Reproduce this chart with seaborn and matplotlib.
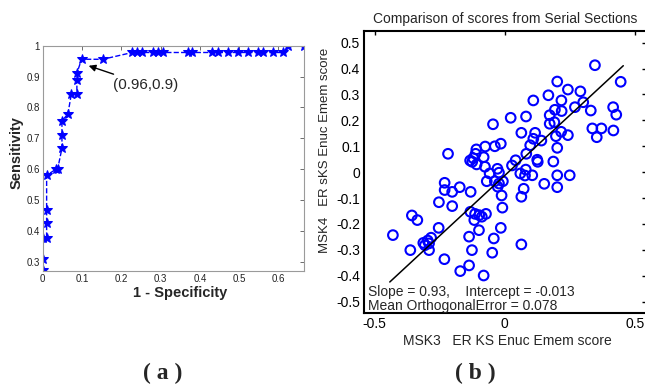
import numpy as np
import pandas as pd
import matplotlib
matplotlib.use('Agg')
import matplotlib.pyplot as plt
import seaborn as sns

# ROC curve (panel a)
fpr = [0.0, 0.0, 0.0, 0.01, 0.01, 0.01, 0.01, 0.034, 0.038, 0.049, 0.049, 0.049,
       0.064, 0.073, 0.087, 0.087, 0.087, 0.099, 0.153, 0.228, 0.24, 0.253, 0.28,
       0.293, 0.305, 0.369, 0.381, 0.432, 0.445, 0.472, 0.497, 0.522, 0.548, 0.561,
       0.586, 0.612, 0.625, 0.665]
tpr = [0.272, 0.31, 0.378, 0.378, 0.424, 0.468, 0.58, 0.60, 0.60, 0.668, 0.71, 0.757,
       0.778, 0.844, 0.844, 0.889, 0.911, 0.956, 0.956, 0.978, 0.978, 0.978, 0.978,
       0.978, 0.978, 0.978, 0.978, 0.978, 0.978, 0.978, 0.978, 0.978, 0.978, 0.978,
       0.978, 0.978, 1.0, 1.0]

# serial section scores (panel b)
msk3 = [0.347, 0.446, 0.202, 0.243, 0.291, 0.110, 0.218, 0.168, 0.270, 0.302, 0.193,
        0.219, 0.331, 0.417, 0.429, 0.023, 0.082, 0.173, -0.045, 0.173, 0.191, 0.337,
        0.372, 0.354, 0.418, 0.064, 0.117, 0.217, 0.243, 0.197, 0.110, 0.141, 0.098,
        0.202, -0.015, -0.038, -0.075, -0.218, -0.109, -0.112, -0.081, -0.121, -0.133,
        -0.125, -0.108, 0.083, 0.042, 0.125, 0.127, 0.187, 0.028, -0.076, -0.028,
        0.081, -0.058, -0.022, 0.060, 0.078, 0.106, 0.202, 0.250, -0.069, -0.038,
        -0.007, -0.022, -0.231, 0.152, 0.202, -0.231, -0.202, -0.173, -0.131, -0.027,
        0.073, -0.012, 0.064, -0.253, -0.202, -0.357, -0.336, -0.132, -0.114, -0.098,
        -0.072, -0.088, -0.117, -0.009, -0.254, -0.099, -0.015, -0.137, -0.042, -0.430,
        -0.283, -0.296, -0.313, -0.307, -0.291, 0.064, -0.363, -0.291, -0.126, -0.048,
        -0.232, -0.137, -0.171, -0.081]
msk4 = [0.413, 0.349, 0.350, 0.319, 0.312, 0.277, 0.277, 0.297, 0.251, 0.270, 0.241,
        0.236, 0.238, 0.251, 0.222, 0.210, 0.215, 0.220, 0.185, 0.187, 0.193, 0.169,
        0.169, 0.135, 0.161, 0.152, 0.152, 0.156, 0.143, 0.139, 0.129, 0.122, 0.104,
        0.094, 0.110, 0.100, 0.099, 0.071, 0.088, 0.071, 0.058, 0.054, 0.045, 0.040,
        0.030, 0.071, 0.046, 0.048, 0.040, 0.041, 0.026, 0.021, 0.013, 0.010, -0.005,
        -0.002, -0.005, -0.013, -0.012, -0.012, -0.012, -0.035, -0.035, -0.035, -0.044,
        -0.041, -0.045, -0.058, -0.069, -0.076, -0.058, -0.076, -0.056, -0.064, -0.090,
        -0.095, -0.116, -0.131, -0.167, -0.185, -0.153, -0.161, -0.166, -0.161, -0.172,
        -0.185, -0.137, -0.215, -0.224, -0.215, -0.249, -0.256, -0.243, -0.253, -0.264,
        -0.273, -0.282, -0.275, -0.279, -0.301, -0.301, -0.301, -0.311, -0.336, -0.360,
        -0.382, -0.399]
slope = 0.93
intercept = -0.013
fit_x = [-0.442, 0.456]

roc = pd.DataFrame({'fpr': fpr, 'tpr': tpr})
scores = pd.DataFrame({'msk3': msk3, 'msk4': msk4})
fit = pd.DataFrame({'x': fit_x})
fit['y'] = slope * fit['x'] + intercept

sns.set_style('white')
plt.rcParams['font.family'] = ['Liberation Sans', 'DejaVu Sans']
plt.rcParams['axes.unicode_minus'] = False

fig = plt.figure(figsize=(6.45, 3.86), dpi=100)

# panel a
ax1 = fig.add_axes([0.0662, 0.2979, 0.4051, 0.5837])
sns.lineplot(data=roc, x='fpr', y='tpr', sort=False, estimator=None, ax=ax1,
             color='blue', linestyle='--', linewidth=1.0, marker='*', markersize=7,
             markeredgecolor='blue')
ax1.set_xlim(0, 0.665)
ax1.set_ylim(0.27, 1.0)
ax1.set_xticks([0, 0.1, 0.2, 0.3, 0.4, 0.5, 0.6])
ax1.set_yticks([0.3, 0.4, 0.5, 0.6, 0.7, 0.8, 0.9, 1.0])
ax1.xaxis.set_major_formatter(matplotlib.ticker.FormatStrFormatter('%g'))
ax1.yaxis.set_major_formatter(matplotlib.ticker.FormatStrFormatter('%g'))
ax1.tick_params(direction='in', length=3, width=0.6, labelsize=7, colors='#555555',
                labelcolor='#222222', top=True, right=True, pad=2)
for s in ax1.spines.values():
    s.set_color('#9a9a9a')
    s.set_linewidth(0.8)
ax1.set_xlabel('')
ax1.set_ylabel('')
ax1.annotate('(0.96,0.9)', xy=(0.117, 0.935), xytext=(0.178, 0.873),
             ha='left', va='center', fontsize=11,
             arrowprops=dict(arrowstyle='-|>', color='black', lw=1.0,
                             mutation_scale=10, shrinkA=1, shrinkB=0))
fig.text(180 / 645, 1 - 293 / 386, '1 - Specificity', ha='center', va='center',
         fontsize=10.5, fontweight='bold')
fig.text(17 / 645, 1 - 153 / 386, 'Sensitivity', ha='center', va='center',
         rotation=90, fontsize=10.5, fontweight='bold')

# panel b
ax2 = fig.add_axes([0.5648, 0.1883, 0.4374, 0.7313])
sns.scatterplot(data=scores, x='msk3', y='msk4', ax=ax2, marker='o', s=48,
                color='blue', facecolors='none', edgecolor='blue', linewidth=1.5)
ax2.collections[-1].set_facecolor('none')
sns.lineplot(data=fit, x='x', y='y', ax=ax2, color='black', linewidth=1.1)
ax2.set_xlim(-0.54, 0.545)
ax2.set_ylim(-0.545, 0.545)
ax2.set_xticks([-0.5, 0, 0.5])
ax2.set_yticks([-0.5, -0.4, -0.3, -0.2, -0.1, 0, 0.1, 0.2, 0.3, 0.4, 0.5])
ax2.xaxis.set_major_formatter(matplotlib.ticker.FormatStrFormatter('%g'))
ax2.yaxis.set_major_formatter(matplotlib.ticker.FormatStrFormatter('%g'))
ax2.tick_params(direction='in', length=3, width=1.0, labelsize=10, colors='black',
                top=True, right=True, pad=3)
for s in ax2.spines.values():
    s.set_color('black')
    s.set_linewidth(1.5)
ax2.set_xlabel('')
ax2.set_ylabel('')
ax2.set_title('Comparison of scores from Serial Sections', fontsize=10, pad=6)
ax2.text(-0.525, -0.461, 'Slope = 0.93,    Intercept = -0.013', fontsize=10,
         ha='left', va='center')
ax2.text(-0.525, -0.515, 'Mean OrthogonalError = 0.078', fontsize=10,
         ha='left', va='center')
fig.text(507 / 645, 1 - 341 / 386, 'MSK3   ER KS Enuc Emem score', ha='center',
         va='center', fontsize=10)
fig.text(325 / 645, 1 - 150 / 386, 'MSK4   ER sKS Enuc Emem score', ha='center',
         va='center', rotation=90, fontsize=9.5)

# panel captions
fig.text(163 / 645, 1 - 373 / 386, '( a )', ha='center', va='center', fontsize=17,
         fontweight='bold', family='Liberation Serif')
fig.text(475 / 645, 1 - 373 / 386, '( b )', ha='center', va='center', fontsize=17,
         fontweight='bold', family='Liberation Serif')

fig.savefig('out.png', dpi=100)
